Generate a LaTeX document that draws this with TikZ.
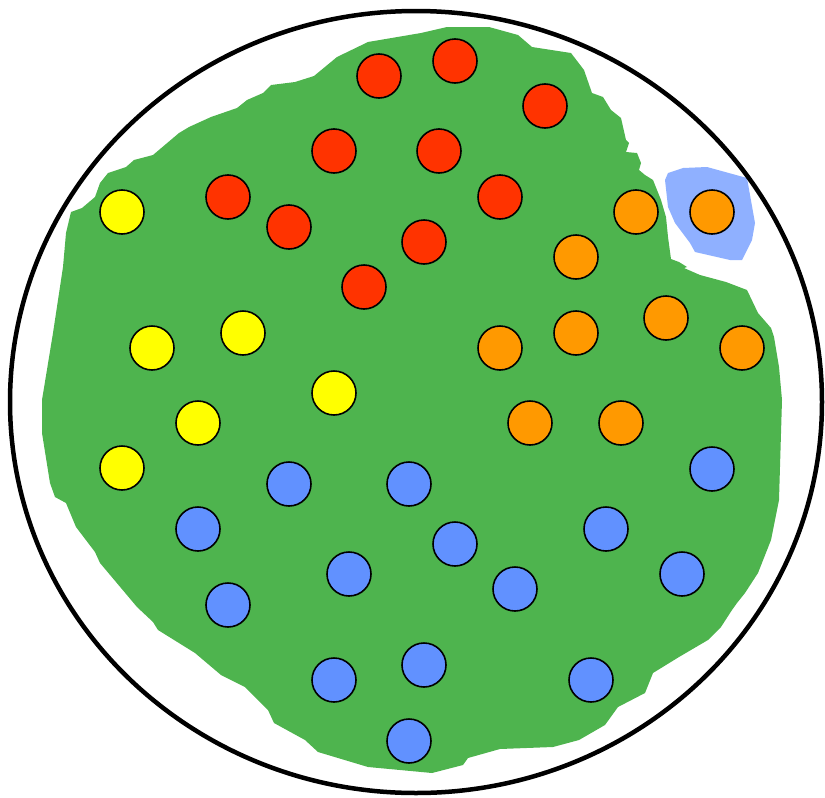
\documentclass[tikz,border=0pt]{standalone}
\usepackage{tikz}
\usetikzlibrary{positioning}

\definecolor{blobgreen}{RGB}{78,180,78}
\definecolor{redball}{RGB}{255,51,0}
\definecolor{yellowball}{RGB}{255,255,0}
\definecolor{orangeball}{RGB}{255,153,0}
\definecolor{blueball}{RGB}{97,145,255}
\definecolor{patchblue}{RGB}{143,176,255}

\tikzset{
  ball/.style={circle, draw=black, line width=1.6pt, minimum size=44pt, inner sep=0pt},
  rball/.style={ball, fill=redball},
  yball/.style={ball, fill=yellowball},
  oball/.style={ball, fill=orangeball},
  bball/.style={ball, fill=blueball}
}

\begin{document}
\begin{tikzpicture}[x=1pt,y=-1pt]
        \useasboundingbox (0,0) rectangle (825,798);
        % green area
        \fill[blobgreen] (314,76) -- (337,57) -- (368,42) -- (421,33) -- (447,27) -- (489,27)
          -- (518,35) -- (532,47) -- (571,53) -- (584,70) -- (592,93) -- (603,97) -- (611,110)
          -- (621,118) -- (626,140) -- (629,143) -- (626,152) -- (637,153) -- (641,163)
          -- (639,170) -- (645,175) -- (653,180) -- (661,200) -- (666,217) -- (668,237)
          -- (671,259) -- (679,262) -- (687,267) -- (684,268) -- (700,275) -- (726,282)
          -- (747,290) -- (758,313) -- (771,328) -- (774,337) -- (779,367) -- (782,400)
          -- (779,500) -- (771,540) -- (758,573) -- (745,593) -- (737,603) -- (732,610)
          -- (721,627) -- (708,640) -- (679,657) -- (653,673) -- (645,693) -- (618,707)
          -- (605,725) -- (579,740) -- (553,747) -- (500,749) -- (468,758) -- (463,765)
          -- (432,773) -- (368,767) -- (318,752) -- (305,740) -- (274,723) -- (268,710)
          -- (245,687) -- (221,675) -- (195,653) -- (158,630) -- (153,622) -- (137,607)
          -- (100,563) -- (95,552) -- (76,527) -- (66,503) -- (55,497) -- (50,483)
          -- (42,433) -- (42,400) -- (53,333) -- (63,267) -- (66,233) -- (71,212)
          -- (82,208) -- (95,197) -- (100,183) -- (108,173) -- (126,167) -- (134,160)
          -- (153,155) -- (179,133) -- (189,127) -- (211,117) -- (237,108) -- (247,100)
          -- (263,93) -- (271,85) -- (295,82) -- cycle;
        % blue patch
        \fill[patchblue] (668,173) -- (683,168) -- (707,167) -- (747,178) -- (755,223)
          -- (752,240) -- (742,260) -- (730,260) -- (695,252) -- (690,243) -- (675,223)
          -- (668,207) -- (665,180) -- cycle;
        \draw[line width=4.5pt] (416,402) ellipse (406 and 391);
        % balls
        \foreach \x/\y [count=\i] in {379/76,455/61,545/106,334/151,439/151,228/197,289/227,500/197,424/242,364/287}
          \node[rball] (r\i) at (\x,\y) {};
        \foreach \x/\y [count=\i] in {122/212,152/348,243/333,334/393,198/423,122/468}
          \node[yball] (y\i) at (\x,\y) {};
        \foreach \x/\y [count=\i] in {636/212,712/212,576/257,666/318,576/333,500/348,742/348,530/423,621/423}
          \node[oball] (o\i) at (\x,\y) {};
        \foreach \x/\y [count=\i] in {712/469,289/484,409/484,198/529,606/529,455/544,349/574,515/589,682/574,228/605,334/680,424/665,591/680,409/741}
          \node[bball] (b\i) at (\x,\y) {};
    \end{tikzpicture}
\end{document}
